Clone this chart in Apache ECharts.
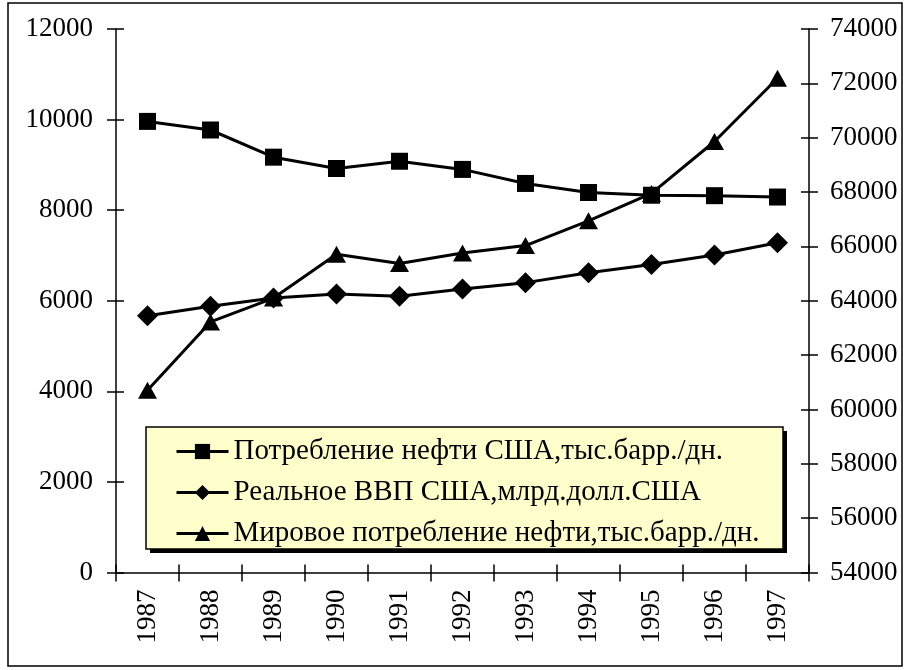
<!DOCTYPE html>
<html>
<head>
<meta charset="utf-8">
<script src="https://cdn.jsdelivr.net/npm/echarts@6/dist/echarts.min.js"></script>
<style>
html,body{margin:0;padding:0;background:#fff;}
#c{width:922px;height:670px;}
</style>
</head>
<body>
<div id="c"></div>
<script>
var years = ['1987','1988','1989','1990','1991','1992','1993','1994','1995','1996','1997'];
var usOil = [9960, 9770, 9170, 8920, 9080, 8900, 8590, 8390, 8330, 8320, 8290];
var usGdp = [5670, 5880, 6060, 6150, 6100, 6260, 6400, 6620, 6800, 7010, 7280];
var worldOil = [60710, 63220, 64100, 65710, 65370, 65760, 66030, 66940, 67950, 69860, 72190];
var names = ['Потребление нефти США,тыс.барр./дн.', 'Реальное ВВП США,млрд.долл.США', 'Мировое потребление нефти,тыс.барр./дн.'];
var leftTicks = {min: 0, max: 12000, interval: 2000};
var rightTicks = {min: 54000, max: 74000, interval: 2000};

var font = 'Liberation Serif';
var chart = echarts.init(document.getElementById('c'));
function yAx(pos, t, main) {
  return {
    type: 'value', position: pos, min: t.min, max: t.max, interval: t.interval,
    splitLine: {show: false},
    axisLine: {show: main, lineStyle: {color: '#000', width: 1.5}},
    axisTick: {show: true, inside: !main, length: main ? 9 : 8, lineStyle: {color: '#000', width: 1.5}},
    axisLabel: {show: main, color: '#000', fontFamily: font, fontSize: 27, margin: pos === 'left' ? 23 : 21,
      formatter: function (v) { return String(v); }}
  };
}
function xAx(main) {
  return {
    type: 'category', data: years, position: 'bottom', boundaryGap: true,
    axisLine: {show: main, onZero: false, lineStyle: {color: '#000', width: 1.5}},
    axisTick: {show: true, inside: !main, length: main ? 9 : 8, lineStyle: {color: '#000', width: 1.5}},
    axisLabel: {show: main, rotate: 90, color: '#000', fontFamily: font, fontSize: 27, margin: 17}
  };
}
chart.setOption({
  animation: false,
  backgroundColor: '#fff',
  grid: {left: 116, right: 113, top: 29, bottom: 97.5, containLabel: false},
  xAxis: [xAx(true), xAx(false)],
  yAxis: [yAx('left', leftTicks, true), yAx('right', rightTicks, true), yAx('left', leftTicks, false), yAx('right', rightTicks, false)],
  legend: {
    orient: 'vertical', left: 175, top: 437, padding: 0,
    itemGap: 12, itemWidth: 52, itemHeight: 19,
    lineStyle: {width: 3},
    textStyle: {color: '#000', fontFamily: font, fontSize: 29, lineHeight: 28},
    data: names
  },
  graphic: [
    {type: 'rect', shape: {x: 8, y: 3, width: 894, height: 663},
     style: {fill: 'none', stroke: '#000', lineWidth: 1.5}, silent: true, z: -1},
    {type: 'rect', shape: {x: 150, y: 431, width: 637, height: 122},
     style: {fill: '#000'}, silent: true, z: 3},
    {type: 'rect', shape: {x: 146, y: 427, width: 637, height: 122},
     style: {fill: '#FFFFCC', stroke: '#000', lineWidth: 1.5}, silent: true, z: 3}
  ],
  series: [
    {name: names[0], type: 'line', data: usOil, yAxisIndex: 0, symbol: 'rect', symbolSize: 17,
     lineStyle: {color: '#000', width: 3}, itemStyle: {color: '#000'}},
    {name: names[1], type: 'line', data: usGdp, yAxisIndex: 0, symbol: 'diamond', symbolSize: 21,
     lineStyle: {color: '#000', width: 3}, itemStyle: {color: '#000'}},
    {name: names[2], type: 'line', data: worldOil, yAxisIndex: 1, symbol: 'triangle', symbolSize: [19, 17],
     lineStyle: {color: '#000', width: 3}, itemStyle: {color: '#000'}}
  ]
});
</script>
</body>
</html>
